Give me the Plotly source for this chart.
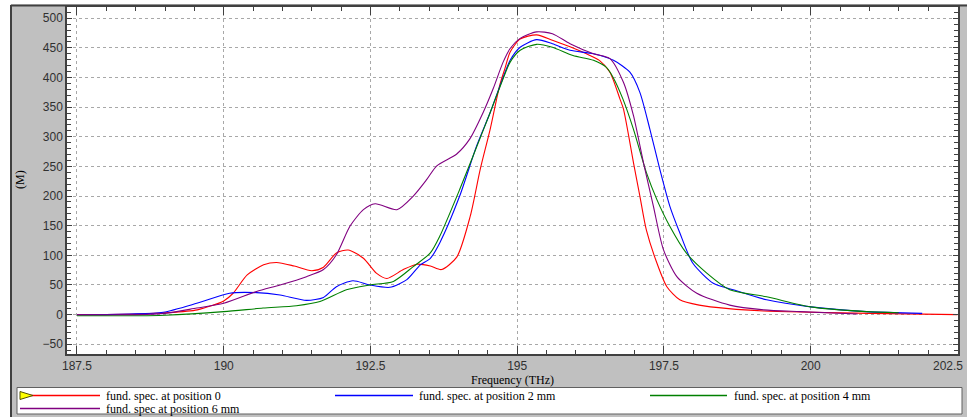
import plotly.graph_objects as go

# ---------------- data ----------------
series_names = [
    "fund. spec. at position 0",
    "fund. spec. at position 2 mm",
    "fund. spec. at position 4 mm",
    "fund. spec at position 6 mm",
]
series_colors = ["#ff0000", "#0000ff", "#008000", "#800080"]

freq_pos0 = [187.5, 188.0, 188.5, 189.0, 189.55, 190.0, 190.16, 190.4, 190.68, 190.9, 191.2, 191.5, 191.7,
             191.92, 192.12, 192.38, 192.6, 192.78, 193.06, 193.29, 193.52, 193.71, 193.97, 194.2, 194.37,
             194.54, 194.7, 194.79, 194.88, 195.05, 195.33, 195.6, 195.9, 196.18, 196.4, 196.58, 196.75,
             196.81, 196.98, 197.09, 197.2, 197.38, 197.55, 197.77, 198.1, 198.6, 199.2, 200.0, 201.0, 202.5]
val_pos0 = [0, 0, 1, 3, 8, 23, 36, 67, 84, 88, 82, 74, 80,
            104, 109, 95, 70, 61, 76, 85, 82, 76, 97, 166, 245,
            313, 386, 415, 443, 465, 472, 463, 452, 440, 429, 409, 364,
            347, 257, 200, 143, 87, 47, 25, 16, 10, 6, 4, 2, 0]

freq_pos2 = [187.5, 188.0, 188.4, 188.97, 189.54, 190.1, 190.56, 190.96, 191.41, 191.7, 191.92, 192.2,
             192.49, 192.83, 193.12, 193.35, 193.52, 193.68, 194.02, 194.31, 194.54, 194.7, 194.88, 195.05,
             195.33, 195.6, 195.9, 196.3, 196.64, 196.92, 197.09, 197.26, 197.43, 197.6, 197.77, 197.99,
             198.34, 198.68, 199.25, 200.0, 200.95, 201.9]
val_pos2 = [0, 0, 1, 4, 19, 36, 37, 33, 24, 29, 47, 57,
            50, 46, 59, 84, 95, 121, 200, 285, 341, 384, 429, 451,
            464, 457, 446, 440, 429, 409, 375, 313, 245, 183, 138, 87,
            53, 42, 25, 13, 5, 2]

freq_pos4 = [187.5, 188.4, 189.0, 190.0, 190.67, 191.24, 191.64, 192.09, 192.49, 192.89, 193.23, 193.52,
             193.68, 194.02, 194.25, 194.54, 194.76, 194.88, 195.05, 195.33, 195.6, 195.95, 196.3, 196.52,
             196.63, 196.8, 196.98, 197.2, 197.38, 197.6, 197.88, 198.23, 198.62, 199.25, 200.0, 200.95, 201.5]
val_pos4 = [-2, -2, -1, 5, 11, 15, 22, 42, 50, 56, 81, 104,
            132, 211, 268, 341, 398, 426, 446, 456, 451, 437, 429, 417,
            401, 364, 313, 240, 194, 149, 104, 70, 42, 30, 13, 5, 3]

freq_pos6 = [187.5, 188.5, 189.0, 189.54, 190.0, 190.56, 190.96, 191.41, 191.7, 191.92, 192.15, 192.38,
             192.58, 192.95, 193.23, 193.46, 193.63, 193.97, 194.19, 194.42, 194.59, 194.76, 194.88, 195.05,
             195.33, 195.6, 195.9, 196.3, 196.58, 196.81, 196.98, 197.15, 197.32, 197.49, 197.72, 198.06,
             198.62, 199.2, 199.82, 200.8]
val_pos6 = [0, 0, 2, 11, 19, 39, 50, 64, 76, 101, 149, 177,
            187, 177, 200, 228, 251, 271, 296, 341, 381, 426, 449, 466,
            477, 474, 457, 440, 432, 392, 336, 257, 183, 110, 64, 36,
            16, 8, 5, 1]

x_ticks = [187.5, 190, 192.5, 195, 197.5, 200, 202.5]
x_tick_labels = ["187.5", "190", "192.5", "195", "197.5", "200", "202.5"]
y_ticks = [-50, 0, 50, 100, 150, 200, 250, 300, 350, 400, 450, 500]

x_title = "Frequency (THz)"
y_title = "(M)"

# ---------------- figure ----------------
W, H = 967, 417
ML, MR, MT, MB = 67, 9, 7, 63
PW, PH = W - ML - MR, H - MT - MB


def px(x):
    return (x - ML) / PW


def py(y):
    return (H - MB - y) / PH


fig = go.Figure()
all_f = [freq_pos0, freq_pos2, freq_pos4, freq_pos6]
all_v = [val_pos0, val_pos2, val_pos4, val_pos6]
for name, col, f, v in zip(series_names, series_colors, all_f, all_v):
    fig.add_trace(go.Scatter(x=f, y=v, mode="lines", name=name,
                             line=dict(color=col, width=1.1, shape="spline", smoothing=0.7),
                             showlegend=False, hoverinfo="skip"))

tick_font = dict(family="Liberation Sans, Arial, sans-serif", size=12, color="#303030")
serif = "Liberation Serif, Times New Roman, serif"

# the last label sits at the right edge of the window: it is drawn as a right-aligned
# annotation so that it stays inside the page
shown_x_labels = list(x_tick_labels)
shown_x_labels[-1] = ""

fig.update_xaxes(range=[187.33, 202.51], tickmode="array", tickvals=x_ticks, ticktext=shown_x_labels,
                 ticks="inside", ticklen=8, tickcolor="#404040", tickwidth=1,
                 showline=True, linecolor="#404040", linewidth=1.5, mirror="allticks",
                 showgrid=True, gridcolor="#a8a8a8", griddash="3px,3px", gridwidth=1,
                 zeroline=False, tickfont=tick_font,
                 minor=dict(dtick=0.5, tick0=187.5, ticks="inside", ticklen=4, tickcolor="#404040",
                            showgrid=False))
fig.update_yaxes(range=[-66.5, 519], tickmode="array", tickvals=y_ticks,
                 ticks="inside", ticklen=5, tickcolor="#404040", tickwidth=1,
                 showline=True, linecolor="#404040", linewidth=1.5, mirror="allticks",
                 showgrid=True, gridcolor="#a8a8a8", griddash="3px,3px", gridwidth=1,
                 zeroline=False, tickfont=tick_font,
                 minor=dict(dtick=10, tick0=0, ticks="inside", ticklen=4, tickcolor="#404040",
                            showgrid=False))

shapes = []
# white strips at left and top of the window
shapes.append(dict(type="rect", xref="paper", yref="paper", x0=px(-5), x1=px(10.5), y0=py(425), y1=py(-5),
                   fillcolor="white", line=dict(width=0), layer="below"))
shapes.append(dict(type="rect", xref="paper", yref="paper", x0=px(-5), x1=px(975), y0=py(4.5), y1=py(-5),
                   fillcolor="white", line=dict(width=0), layer="below"))
# outer frame lines
shapes.append(dict(type="line", xref="paper", yref="paper", x0=px(11), x1=px(11), y0=py(5), y1=py(420),
                   line=dict(color="#404040", width=2), layer="below"))
shapes.append(dict(type="line", xref="paper", yref="paper", x0=px(11), x1=px(975), y0=py(5.5), y1=py(5.5),
                   line=dict(color="#404040", width=2), layer="below"))
# legend box
shapes.append(dict(type="rect", xref="paper", yref="paper", x0=px(17), x1=px(962), y0=py(414), y1=py(387.5),
                   fillcolor="white", line=dict(color="#606060", width=1)))

annotations = []
legend_pos = [(20, 100, 104, 395.5), (335, 413, 417, 395.5), (650, 727, 732, 395.5), (20, 100, 104, 408.5)]
for name, col, (lx0, lx1, tx, ly) in zip(series_names, series_colors, legend_pos):
    shapes.append(dict(type="line", xref="paper", yref="paper", x0=px(lx0), x1=px(lx1), y0=py(ly), y1=py(ly),
                       line=dict(color=col, width=1.4)))
    annotations.append(dict(text=name, xref="paper", yref="paper", x=px(tx), y=py(ly), xanchor="left",
                            yanchor="middle", showarrow=False,
                            font=dict(family=serif, size=12, color="#000000")))
# yellow selection triangle on first legend entry
shapes.append(dict(type="path", xref="paper", yref="paper",
                   path=f"M {px(20)},{py(391.5)} L {px(20)},{py(399.5)} L {px(33)},{py(395.5)} Z",
                   fillcolor="#ffff00", line=dict(color="#505000", width=1)))

# last x tick label (right edge)
annotations.append(dict(text=x_tick_labels[-1], xref="paper", yref="paper", x=px(965), y=py(366),
                        xanchor="right", yanchor="middle", showarrow=False, font=tick_font))

annotations.append(dict(text=x_title, xref="paper", yref="paper", x=px(512), y=py(380.5), xanchor="center",
                        yanchor="middle", showarrow=False, font=dict(family=serif, size=12, color="#000000")))
annotations.append(dict(text=y_title, xref="paper", yref="paper", x=px(20), y=py(180), xanchor="center",
                        yanchor="middle", textangle=-90, showarrow=False,
                        font=dict(family=serif, size=12, color="#000000")))

fig.update_layout(width=W, height=H, margin=dict(l=ML, r=MR, t=MT, b=MB, autoexpand=False),
                  paper_bgcolor="#c0c0c0", plot_bgcolor="#ffffff",
                  shapes=shapes, annotations=annotations, showlegend=False)

fig.write_html("out.html")
